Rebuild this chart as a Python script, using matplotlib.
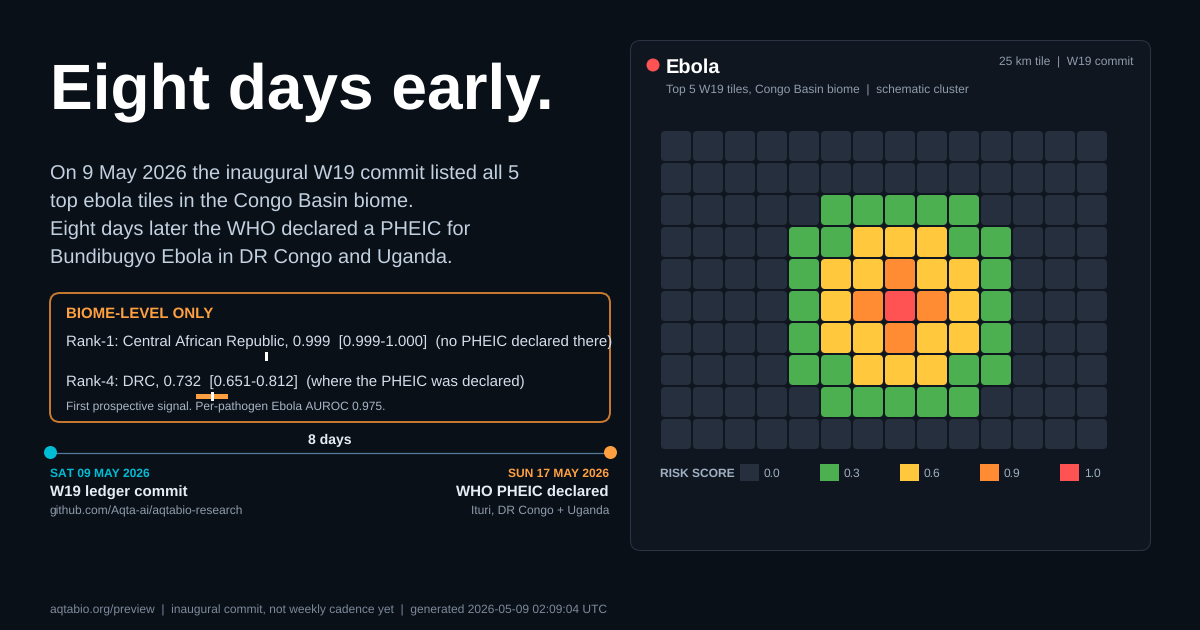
from matplotlib import pyplot as plt
from matplotlib.patches import Circle, FancyBboxPatch, Rectangle

plt.rcParams['font.family'] = ['Liberation Sans', 'DejaVu Sans']
plt.rcParams['text.hinting'] = 'no_hinting'
plt.rcParams['text.hinting_factor'] = 1

risk_grid = [
    [0.0, 0.0, 0.0, 0.0, 0.0, 0.0, 0.0, 0.0, 0.0, 0.0, 0.0, 0.0, 0.0, 0.0],
    [0.0, 0.0, 0.0, 0.0, 0.0, 0.0, 0.0, 0.0, 0.0, 0.0, 0.0, 0.0, 0.0, 0.0],
    [0.0, 0.0, 0.0, 0.0, 0.0, 0.3, 0.3, 0.3, 0.3, 0.3, 0.0, 0.0, 0.0, 0.0],
    [0.0, 0.0, 0.0, 0.0, 0.3, 0.3, 0.6, 0.6, 0.6, 0.3, 0.3, 0.0, 0.0, 0.0],
    [0.0, 0.0, 0.0, 0.0, 0.3, 0.6, 0.6, 0.9, 0.6, 0.6, 0.3, 0.0, 0.0, 0.0],
    [0.0, 0.0, 0.0, 0.0, 0.3, 0.6, 0.9, 1.0, 0.9, 0.6, 0.3, 0.0, 0.0, 0.0],
    [0.0, 0.0, 0.0, 0.0, 0.3, 0.6, 0.6, 0.9, 0.6, 0.6, 0.3, 0.0, 0.0, 0.0],
    [0.0, 0.0, 0.0, 0.0, 0.3, 0.3, 0.6, 0.6, 0.6, 0.3, 0.3, 0.0, 0.0, 0.0],
    [0.0, 0.0, 0.0, 0.0, 0.0, 0.3, 0.3, 0.3, 0.3, 0.3, 0.0, 0.0, 0.0, 0.0],
    [0.0, 0.0, 0.0, 0.0, 0.0, 0.0, 0.0, 0.0, 0.0, 0.0, 0.0, 0.0, 0.0, 0.0],
]
legend_scores = [0.0, 0.3, 0.6, 0.9, 1.0]
legend_colors = ['#252f3d', '#4caf50', '#ffc83d', '#ff8c33', '#ff5252']

body_lines = [
    'On 9 May 2026 the inaugural W19 commit listed all 5',
    'top ebola tiles in the Congo Basin biome.',
    'Eight days later the WHO declared a PHEIC for',
    'Bundibugyo Ebola in DR Congo and Uganda.',
]
rank1_auroc = [0.999, 0.999, 1.000]  # point, low, high
rank4_auroc = [0.732, 0.651, 0.812]

BG = '#0a1018'
CARD = '#0f1620'

fig = plt.figure(figsize=(12, 6.3), dpi=100, facecolor=BG)
ax = fig.add_axes([0, 0, 1, 1])
ax.set_xlim(0, 1200)
ax.set_ylim(630, 0)
ax.axis('off')


def txt(x, y, s, px, color, weight='normal', ha='left'):
    return ax.text(x, y, s, fontsize=px * 0.72, color=color, weight=weight, ha=ha, va='baseline')


def rbox(x, y, w, h, r, fc, ec='none', lw=0, zorder=1):
    p = FancyBboxPatch((x + r, y + r), w - 2 * r, h - 2 * r, boxstyle=f'round,pad={r},rounding_size={r}',
                       fc=fc, ec=ec, lw=lw, zorder=zorder)
    ax.add_patch(p)


# left column
txt(50, 108, 'Eight days early.', 64, '#ffffff', 'bold')
for i, line in enumerate(body_lines):
    txt(50, 179 + i * 28, line, 20, '#c2d0e0')

# biome box
rbox(50, 293, 560, 129, 10, BG, '#c97a30', 1.4)
txt(66, 318, 'BIOME-LEVEL ONLY', 15, '#ffa040', 'bold')
txt(66, 346, 'Rank-1: Central African Republic, 0.999  [0.999-1.000]  (no PHEIC declared there)', 15, '#d5dfeb')
txt(66, 386, 'Rank-4: DRC, 0.732  [0.651-0.812]  (where the PHEIC was declared)', 15, '#d5dfeb')
txt(66, 411, 'First prospective signal. Per-pathogen Ebola AUROC 0.975.', 12, '#a8b6c6')


def auroc_x(v):
    return 66 + 200 * v


ax.add_patch(Rectangle((auroc_x(rank1_auroc[1]), 354), auroc_x(rank1_auroc[2]) - auroc_x(rank1_auroc[1]), 5,
                       fc='#ffa040', ec='none', zorder=3))
ax.add_patch(Rectangle((auroc_x(rank1_auroc[0]) - 1, 352), 3, 9, fc='#ffffff', ec='none', zorder=4))
ax.add_patch(Rectangle((auroc_x(rank4_auroc[1]), 394), auroc_x(rank4_auroc[2]) - auroc_x(rank4_auroc[1]), 5,
                       fc='#ffa040', ec='none', zorder=3))
ax.add_patch(Rectangle((auroc_x(rank4_auroc[0]) - 1, 392), 3, 9, fc='#ffffff', ec='none', zorder=4))

# timeline
txt(330, 444, '8 days', 14, '#e6edf5', 'bold', ha='center')
ax.plot([50, 610], [452.5, 452.5], color='#55799a', lw=0.9, zorder=2)
ax.add_patch(Circle((50.5, 452.5), 6.5, fc='#00bcd4', ec='none', zorder=3))
ax.add_patch(Circle((610.5, 452.5), 6.5, fc='#ffa040', ec='none', zorder=3))
txt(50, 477, 'SAT 09 MAY 2026', 12, '#00bcd4', 'bold')
txt(50, 497, 'W19 ledger commit', 15, '#e6edf5', 'bold')
txt(50, 515, 'github.com/Aqta-ai/aqtabio-research', 12, '#8f9cac')
txt(609, 477, 'SUN 17 MAY 2026', 12, '#ffa040', 'bold', ha='right')
txt(609, 497, 'WHO PHEIC declared', 15, '#e6edf5', 'bold', ha='right')
txt(609, 515, 'Ituri, DR Congo + Uganda', 12, '#8f9cac', ha='right')

txt(50, 613, 'aqtabio.org/preview  |  inaugural commit, not weekly cadence yet  |  generated 2026-05-09 02:09:04 UTC',
    12, '#7d8a9a')

# card
rbox(630.5, 40.5, 520, 510, 10, CARD, '#2a3442', 0.72)
ax.add_patch(Circle((653, 65), 6.5, fc='#ff5252', ec='none', zorder=3))
txt(666, 73, 'Ebola', 20, '#ffffff', 'bold')
txt(666, 93, 'Top 5 W19 tiles, Congo Basin biome  |  schematic cluster', 12, '#8f9cac')
txt(1133.5, 65, '25 km tile  |  W19 commit', 12, '#8f9cac', ha='right')

# tile grid
cell_color = dict(zip(legend_scores, legend_colors))
for row, values in enumerate(risk_grid):
    for col, v in enumerate(values):
        rbox(661 + col * 32, 131 + row * 32, 30, 30, 4, cell_color[v], zorder=2)

# legend
txt(660, 477, 'RISK SCORE', 12, '#9fb0c2', 'bold')
for i, (score, color) in enumerate(zip(legend_scores, legend_colors)):
    ax.add_patch(Rectangle((740 + i * 80, 464), 19, 17, fc=color, ec='none', zorder=2))
    txt(764 + i * 80, 477, f'{score:.1f}', 12, '#9fb0c2')

fig.savefig('out.png', dpi=100, facecolor=BG)
